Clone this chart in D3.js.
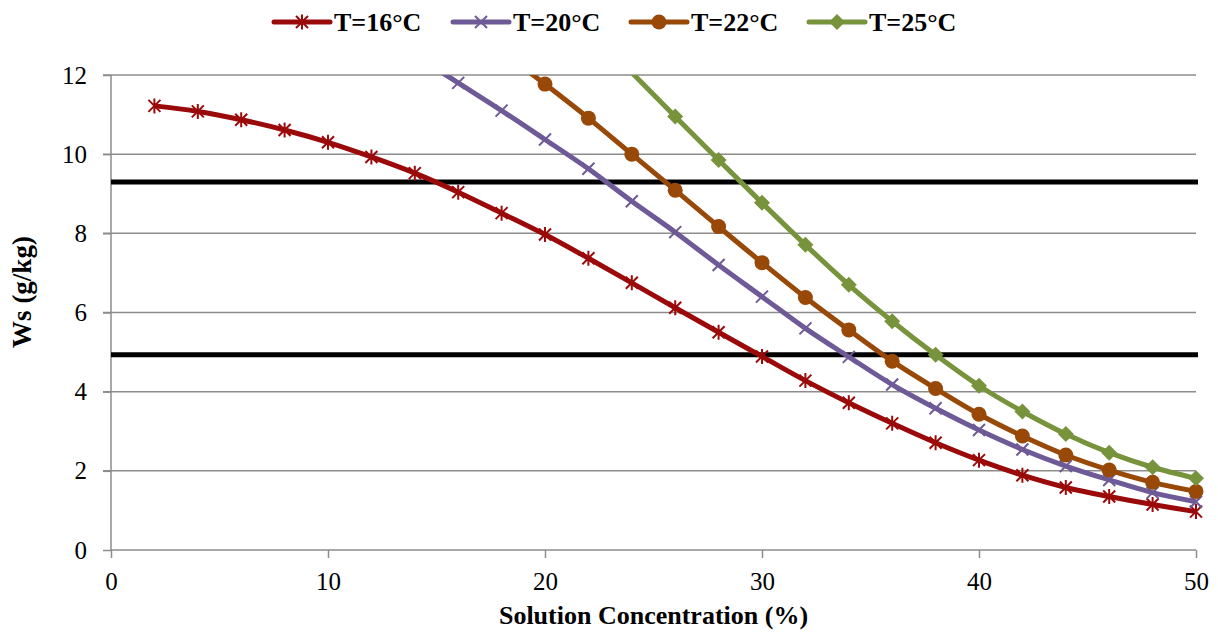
<!DOCTYPE html>
<html>
<head>
<meta charset="utf-8">
<script src="https://d3js.org/d3.v7.min.js"></script>
<style>
    body { margin: 0; background: #fff; }
    svg { display: block; }
</style>
</head>
<body>
<div id="chart"></div>
<script>

// solution concentration (%)
var conc = [2, 4, 6, 8, 10, 12, 14, 16, 18, 20, 22, 24, 26, 28, 30, 32, 34, 36, 38, 40, 42, 44, 46, 48, 50];

// Ws (g/kg) per temperature, null where the point is not in the series
var ws16 = [11.22, 11.08, 10.87, 10.61, 10.30, 9.93, 9.52, 9.04, 8.51, 7.97, 7.37, 6.75, 6.12, 5.50, 4.89, 4.28, 3.72, 3.20, 2.71, 2.27, 1.89, 1.58, 1.35, 1.15, 0.97];
var ws20 = [null, null, null, null, null, null, 12.5, 11.80, 11.10, 10.37, 9.63, 8.81, 8.03, 7.20, 6.40, 5.60, 4.88, 4.18, 3.58, 3.03, 2.54, 2.12, 1.77, 1.45, 1.22];
var ws22 = [null, null, null, null, null, null, null, null, 12.6, 11.77, 10.91, 10.00, 9.09, 8.17, 7.26, 6.38, 5.56, 4.77, 4.08, 3.43, 2.88, 2.40, 2.02, 1.71, 1.48];
var ws25 = [null, null, null, null, null, null, null, null, null, null, 13.2, 12.06, 10.95, 9.85, 8.77, 7.71, 6.70, 5.78, 4.93, 4.15, 3.50, 2.93, 2.46, 2.09, 1.81];

var seriesNames = ["T=16°C", "T=20°C", "T=22°C", "T=25°C"];
var seriesColours = ["#9b0a0a", "#6e5a96", "#984807", "#77933c"];
var seriesMarkers = ["star", "cross", "circle", "diamond"];

// the two horizontal reference lines
var refLines = [9.3, 4.93];

var xTicks = [0, 10, 20, 30, 40, 50];
var yTicks = [0, 2, 4, 6, 8, 10, 12];

var svgWidth = 1218, svgHeight = 632;
var margin = {top: 75, right: 22, bottom: 82, left: 111};
var width = svgWidth - margin.left - margin.right;
var height = svgHeight - margin.top - margin.bottom;

var serif = "'Liberation Serif', 'Times New Roman', serif";

var svg = d3.select("#chart").append("svg")
    .attr("width", svgWidth).attr("height", svgHeight);

var g = svg.append("g")
    .attr("transform", "translate(" + margin.left + " " + margin.top + ")");

var x = d3.scaleLinear().domain([0, 50]).range([0, width]);
var y = d3.scaleLinear().domain([0, 12]).range([height, 0]);

var gridColour = "#8c8c8c";

// grid lines
g.append("g").selectAll("line")
    .data(yTicks.slice(1)).enter().append("line")
        .attr("x1", -8).attr("x2", width)
        .attr("y1", function(d) { return y(d); })
        .attr("y2", function(d) { return y(d); })
        .attr("stroke", gridColour).attr("stroke-width", 1.5);

// Y Axis
var yAxis = g.append("g")
    .attr("class", "y axis")
    .call(d3.axisLeft(y).tickValues(yTicks).tickSize(8).tickPadding(16).tickFormat(d3.format("d")));

// X Axis
var xAxis = g.append("g")
    .attr("class", "x axis")
    .attr("transform", "translate(0 " + height + ")")
    .call(d3.axisBottom(x).tickValues(xTicks).tickSize(8).tickPadding(14).tickFormat(d3.format("d")));

[xAxis, yAxis].forEach(function(ax) {
    ax.select(".domain").attr("stroke", gridColour).attr("stroke-width", 1.5);
    ax.selectAll(".tick line").attr("stroke", gridColour).attr("stroke-width", 1.5);
    ax.selectAll("text")
        .attr("font-family", serif)
        .attr("font-size", "25px")
        .attr("fill", "#000");
});
yAxis.selectAll(".domain").attr("d", "M0," + height + "V0");
xAxis.selectAll(".domain").attr("d", "M0,0H" + width);

// reference lines
g.append("g").selectAll("line")
    .data(refLines).enter().append("line")
        .attr("x1", 0).attr("x2", width + 2)
        .attr("y1", function(d) { return y(d); })
        .attr("y2", function(d) { return y(d); })
        .attr("stroke", "#000").attr("stroke-width", 5);

// clip the curves at the top of the plot
svg.append("defs").append("clipPath").attr("id", "plotClip")
    .append("rect").attr("x", -5).attr("y", 0)
    .attr("width", width + 20).attr("height", height);

var seriesData = [ws16, ws20, ws22, ws25].map(function(vals, i) {
    return {
        name: seriesNames[i],
        colour: seriesColours[i],
        marker: seriesMarkers[i],
        values: conc.map(function(c, j) { return {x: c, y: vals[j]}; })
            .filter(function(d) { return d.y !== null; })
    };
});

var line = d3.line()
    .x(function(d) { return x(d.x); })
    .y(function(d) { return y(d.y); })
    .curve(d3.curveCatmullRom.alpha(0.5));

// draw one marker into a selection, centred at 0,0
function drawMarker(sel, type, colour) {
    if (type == "circle") {
        sel.append("circle").attr("r", 7.5).attr("fill", colour);
    } else if (type == "diamond") {
        sel.append("path").attr("d", "M0,-8L8,0L0,8L-8,0Z").attr("fill", colour);
    } else if (type == "cross") {
        sel.append("path").attr("d", "M-6,-6L6,6M-6,6L6,-6")
            .attr("stroke", colour).attr("stroke-width", 2).attr("fill", "none");
    } else {
        sel.append("path").attr("d", "M-6,-6L6,6M-6,6L6,-6M0,-7.5V7.5")
            .attr("stroke", colour).attr("stroke-width", 2).attr("fill", "none");
    }
}

var seriesG = g.append("g").selectAll("g")
    .data(seriesData).enter().append("g");

seriesG.append("path")
    .attr("clip-path", "url(#plotClip)")
    .attr("fill", "none")
    .attr("stroke", function(d) { return d.colour; })
    .attr("stroke-width", 5)
    .attr("stroke-linejoin", "round")
    .attr("d", function(d) { return line(d.values); });

seriesG.each(function(s) {
    d3.select(this).selectAll("g.marker")
        .data(s.values.filter(function(d) { return d.y <= 12; }))
        .enter().append("g")
            .attr("class", "marker")
            .attr("transform", function(d) { return "translate(" + x(d.x) + " " + y(d.y) + ")"; })
            .each(function() { drawMarker(d3.select(this), s.marker, s.colour); });
});

// Axis titles
svg.append("text")
    .attr("x", margin.left + width / 2).attr("y", 624)
    .attr("text-anchor", "middle")
    .attr("font-family", serif)
    .attr("font-weight", "bold").attr("font-size", "26px")
    .text("Solution Concentration (%)");

svg.append("text")
    .attr("transform", "translate(31 292) rotate(-90)")
    .attr("text-anchor", "middle")
    .attr("font-family", serif)
    .attr("font-weight", "bold").attr("font-size", "27px")
    .text("Ws (g/kg)");

// Legend
var legendX = [274, 453, 631, 809];
var legend = svg.append("g").attr("class", "legend")
    .selectAll("g").data(seriesData).enter().append("g")
        .attr("transform", function(d, i) { return "translate(" + legendX[i] + " 22)"; });

legend.append("line")
    .attr("x1", 0).attr("x2", 56).attr("y1", 0).attr("y2", 0)
    .attr("stroke", function(d) { return d.colour; })
    .attr("stroke-width", 5).attr("stroke-linecap", "round");

legend.append("g")
    .attr("transform", "translate(28 0)")
    .each(function(d) { drawMarker(d3.select(this), d.marker, d.colour); });

legend.append("text")
    .attr("x", 60).attr("y", 9)
    .attr("font-family", serif)
    .attr("font-weight", "bold").attr("font-size", "26px")
    .text(function(d) { return d.name; });

</script>
</body>
</html>
